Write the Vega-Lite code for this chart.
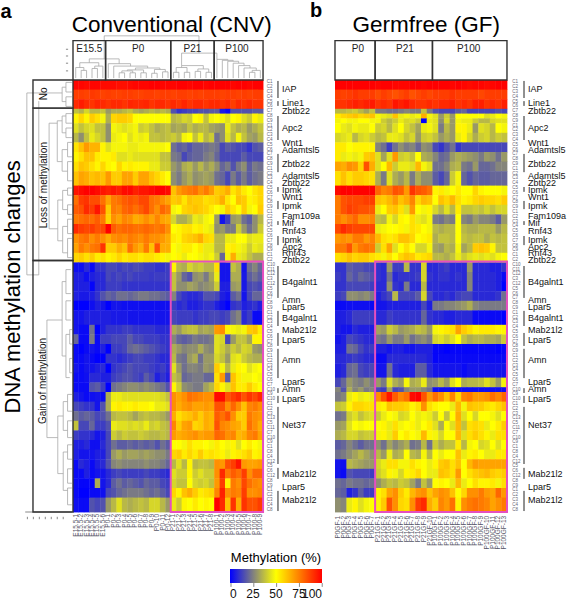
{"$schema":"https://vega.github.io/schema/vega-lite/v6.json","padding":0,"spacing":0,"bounds":"flush","resolve":{"scale":{"color":"independent"}},"config":{"font":"Liberation Sans","view":{"stroke":null}},
"datasets":{
"cellsA":[
{"r":0,"e":2,"v":[99,99,98,99,99,98,98,98,97,97,98,99,99,99,100,100,99,99,99,100,100,99,100,100,99,100,100,100,100,99,100,100,99,100,100]},
{"r":2,"e":4,"v":[88,88,87,89,88,87,88,87,87,88,88,87,87,88,88,87,88,88,87,88,88,87,88,87,88,88,88,87,88,88,87,88,87,88,88]},
{"r":4,"e":6,"v":[92,95,92,90,93,92,90,92,92,90,93,92,92,93,90,92,92,90,92,90,93,90,92,92,90,92,92,90,92,88,92,90,92,90,90]},
{"r":6,"e":7,"v":[38,35,42,36,36,38,30,34,34,36,38,34,32,34,36,34,36,34,16,10,12,14,14,16,16,18,18,5,2,16,16,16,16,18,18]},
{"r":7,"e":9,"v":[52,58,52,60,56,48,34,58,60,60,58,50,50,50,50,50,50,50,36,38,42,40,50,52,38,48,50,48,44,50,52,44,40,52,46]},
{"r":9,"e":11,"v":[44,38,42,44,38,38,28,48,46,44,46,48,40,42,38,34,36,38,32,34,32,38,34,36,36,32,30,28,46,38,34,36,30,34,38]},
{"r":11,"e":13,"v":[36,28,38,46,42,38,28,46,48,50,44,48,46,48,38,38,36,38,40,36,48,50,38,46,36,40,22,28,44,36,48,38,32,30,36]},
{"r":13,"e":15,"v":[55,62,70,65,65,52,44,48,48,48,46,46,48,48,48,48,48,50,22,18,20,16,20,20,22,24,22,14,18,16,14,14,10,16,18]},
{"r":15,"e":17,"v":[52,56,62,62,54,52,52,54,44,44,46,44,44,44,44,44,38,38,24,22,14,18,20,20,24,26,20,14,14,14,14,18,14,14,14]},
{"r":17,"e":19,"v":[56,62,60,56,52,58,52,50,58,52,54,52,52,52,46,46,40,40,30,26,34,36,30,36,30,34,28,20,24,16,24,28,18,24,22]},
{"r":19,"e":22,"v":[62,68,66,62,64,62,70,60,60,68,68,60,68,68,62,58,54,50,28,24,30,34,28,30,32,30,22,20,14,24,18,24,18,22,24]},
{"r":22,"e":24,"v":[96,98,100,100,98,96,94,96,94,98,98,94,96,96,98,100,100,98,62,70,74,76,78,72,76,70,60,62,66,55,60,54,50,55,58]},
{"r":24,"e":26,"v":[78,88,90,85,85,78,68,76,78,82,84,82,86,86,78,76,72,68,60,62,55,62,60,60,56,58,60,66,55,50,62,60,52,54,58]},
{"r":26,"e":28,"v":[82,84,92,88,96,84,60,76,74,80,82,78,82,86,78,72,80,76,48,50,58,60,62,60,58,54,50,48,60,55,50,60,48,50,60]},
{"r":28,"e":30,"v":[76,78,80,78,82,76,58,72,68,74,72,66,68,72,68,74,68,66,42,34,34,38,46,44,48,50,30,4,12,30,32,22,18,28,36]},
{"r":30,"e":32,"v":[92,88,86,88,84,86,100,82,78,80,80,78,78,80,78,76,78,72,50,52,55,56,52,54,48,46,28,30,24,24,40,30,22,28,40]},
{"r":32,"e":34,"v":[72,76,78,72,76,72,66,72,74,72,76,74,72,76,72,72,70,66,54,52,58,60,62,66,58,56,36,36,46,46,50,50,44,46,46]},
{"r":34,"e":36,"v":[68,76,72,76,78,90,60,60,66,62,78,70,66,76,62,84,66,66,50,48,54,54,50,54,46,46,36,36,52,54,48,46,40,46,44]},
{"r":36,"e":38,"v":[58,60,56,60,54,56,52,54,58,54,56,56,54,56,56,54,52,48,50,52,46,50,50,48,46,48,40,20,48,66,46,44,38,34,34]},
{"r":38,"e":40,"v":[3,3,8,2,10,10,14,14,12,14,13,15,14,12,12,10,10,12,52,36,34,42,38,40,36,36,56,4,4,38,34,4,22,26,20]},
{"r":40,"e":42,"v":[6,6,3,6,8,8,14,12,14,12,14,12,12,12,11,12,12,12,38,30,20,16,28,30,24,32,46,4,4,34,34,5,18,22,18]},
{"r":42,"e":44,"v":[6,6,6,1,8,8,12,12,12,10,10,10,10,10,10,10,10,10,38,28,28,32,30,26,28,30,40,6,6,30,32,5,14,16,14]},
{"r":44,"e":46,"v":[6,5,5,6,10,16,20,18,22,22,20,22,24,24,22,22,20,18,26,14,10,8,8,10,16,16,14,6,4,18,22,4,14,20,20]},
{"r":46,"e":48,"v":[0,0,0,3,6,4,0,4,4,3,3,3,3,3,3,3,3,3,12,8,10,6,6,8,10,10,6,3,0,10,12,6,8,10,6]},
{"r":48,"e":51,"v":[4,4,6,6,6,6,6,5,5,5,4,4,4,4,4,4,4,4,14,12,12,12,10,12,12,14,14,12,14,22,26,8,12,2,2]},
{"r":51,"e":53,"v":[4,2,2,22,0,6,10,10,10,12,12,10,10,10,10,8,8,8,34,30,36,38,38,32,34,32,70,72,52,48,46,48,60,62,54]},
{"r":53,"e":55,"v":[20,2,2,24,2,12,12,14,14,14,18,14,14,12,12,12,10,10,26,20,18,20,24,22,22,24,44,42,14,30,38,38,32,52,52]},
{"r":55,"e":57,"v":[2,0,2,4,2,6,0,12,12,14,20,22,20,18,16,14,12,10,34,30,26,28,28,34,28,26,44,40,34,40,36,42,40,30,28]},
{"r":57,"e":59,"v":[2,2,4,2,0,0,10,10,8,10,12,14,14,12,12,10,8,8,36,24,22,30,34,22,30,30,42,38,30,44,46,40,36,34,34]},
{"r":59,"e":61,"v":[4,2,4,4,6,8,0,10,12,14,16,14,14,14,12,10,12,8,44,30,22,26,26,24,30,28,60,48,36,46,52,50,44,48,50]},
{"r":61,"e":63,"v":[2,2,3,8,8,6,6,12,14,16,16,14,12,18,14,6,10,6,38,34,20,22,24,24,20,20,56,70,18,62,54,48,48,50,48]},
{"r":63,"e":65,"v":[2,2,2,16,18,12,0,22,24,26,28,28,26,28,26,24,22,16,52,40,28,26,24,24,32,36,58,52,44,62,54,54,60,54,50]},
{"r":65,"e":67,"v":[6,4,2,3,4,2,34,46,46,44,44,44,44,44,44,44,42,38,72,68,72,78,76,74,72,72,98,98,84,88,92,84,90,86,92]},
{"r":67,"e":69,"v":[14,12,10,10,4,16,34,52,54,52,52,54,52,52,50,46,46,44,72,66,70,72,68,68,70,68,84,84,72,80,72,62,74,76,72]},
{"r":69,"e":71,"v":[22,18,20,18,14,16,22,36,38,38,36,32,36,38,36,36,34,30,66,56,60,62,66,60,66,64,82,78,84,72,60,60,76,72,70]},
{"r":71,"e":73,"v":[38,14,14,20,12,12,16,46,44,44,42,44,42,46,40,42,38,36,74,60,68,70,58,60,66,64,84,74,72,68,66,60,78,72,66]},
{"r":73,"e":75,"v":[12,10,10,8,4,6,14,40,36,40,38,38,40,38,36,36,38,36,70,66,68,70,72,68,70,70,80,78,72,74,64,66,74,76,68]},
{"r":75,"e":77,"v":[6,6,8,3,3,8,14,22,18,18,20,18,20,18,20,16,22,18,50,50,48,56,52,52,50,48,54,50,48,52,44,50,54,50,48]},
{"r":77,"e":79,"v":[6,4,4,4,6,6,14,30,34,30,32,32,30,32,30,28,28,24,58,60,54,58,54,60,54,56,54,52,46,52,54,56,60,52,54]},
{"r":79,"e":81,"v":[2,8,6,2,6,8,16,26,28,26,26,26,26,28,26,26,24,20,36,44,36,52,36,38,38,36,72,70,84,88,96,70,68,68,70]},
{"r":81,"e":83,"v":[2,2,6,2,4,4,8,12,14,12,12,12,12,14,12,12,10,8,44,40,40,52,40,44,40,40,72,92,76,82,78,88,72,80,80]},
{"r":83,"e":85,"v":[2,1,1,1,34,4,8,18,22,18,20,18,16,20,18,18,14,12,42,38,38,50,42,40,42,38,70,88,52,76,72,86,78,74,72]},
{"r":85,"e":87,"v":[2,0,0,2,2,3,14,16,20,22,24,24,24,22,20,22,18,14,58,52,62,66,60,54,56,58,74,94,72,76,74,88,72,72,74]},
{"r":87,"e":90,"v":[3,2,2,16,14,16,30,36,44,36,34,36,38,36,42,42,36,30,46,40,52,50,54,50,52,50,100,92,62,90,66,90,84,84,88]}],
"cellsB":[
{"r":0,"e":2,"v":[100,100,100,100,100,100,100,99,100,100,99,99,99,100,100,99,100,100,100,100,99,100,99,98,99,99,98,99,100,100]},
{"r":2,"e":4,"v":[88,87,88,90,88,88,88,85,88,86,84,86,88,84,86,88,86,88,88,88,90,88,88,88,88,86,88,88,88,88]},
{"r":4,"e":6,"v":[90,90,92,94,92,94,95,90,92,90,96,94,96,92,90,90,92,90,92,92,94,90,92,90,94,94,90,92,90,94]},
{"r":6,"e":7,"v":[36,36,38,40,36,32,38,24,24,22,22,24,26,24,24,38,24,16,14,14,14,18,20,14,14,14,14,14,16,14]},
{"r":7,"e":8,"v":[54,58,60,62,58,60,62,48,46,44,62,46,48,46,48,66,48,44,30,40,30,50,50,50,50,50,44,46,50,48]},
{"r":8,"e":9,"v":[48,50,48,48,50,50,48,48,40,36,40,46,42,44,40,0,46,44,28,42,30,48,46,46,40,36,36,42,44,44]},
{"r":9,"e":11,"v":[50,46,44,48,46,46,50,40,42,36,44,50,42,38,32,46,48,44,24,36,30,52,52,46,30,44,42,36,50,48]},
{"r":11,"e":13,"v":[42,44,46,36,42,44,40,36,38,46,46,44,38,42,30,40,42,38,30,34,30,46,52,42,34,40,42,36,40,38]},
{"r":13,"e":15,"v":[54,54,50,52,52,52,52,26,22,12,22,28,24,26,20,28,26,14,10,16,22,10,14,14,14,14,14,14,14,14]},
{"r":15,"e":17,"v":[54,46,48,46,48,60,62,44,32,44,70,40,42,38,50,34,32,26,20,22,30,34,32,30,28,24,30,28,22,30]},
{"r":17,"e":19,"v":[68,66,72,70,58,84,66,44,50,64,40,46,46,44,64,48,44,22,22,26,34,36,24,22,30,20,20,22,26,26]},
{"r":19,"e":22,"v":[56,62,56,60,60,58,56,34,24,44,34,30,36,24,34,28,28,18,14,20,40,48,20,16,20,18,18,20,20,20]},
{"r":22,"e":24,"v":[98,100,100,100,100,100,100,80,74,76,84,82,70,90,84,82,78,52,54,48,50,54,50,50,58,52,50,50,50,48]},
{"r":24,"e":26,"v":[76,84,86,86,86,88,88,62,60,64,70,62,66,74,58,64,62,50,62,58,64,56,52,54,58,60,58,58,56,60]},
{"r":26,"e":28,"v":[76,84,88,86,84,84,82,46,50,60,62,56,44,70,50,48,52,42,36,44,36,54,38,38,40,38,42,38,42,42]},
{"r":28,"e":30,"v":[76,72,76,80,72,72,74,38,36,48,42,52,50,56,46,44,48,24,22,26,24,50,26,24,30,26,26,24,18,30]},
{"r":30,"e":32,"v":[86,92,88,86,86,86,86,46,48,50,50,52,48,56,54,50,48,36,34,36,36,50,36,34,34,36,36,36,30,36]},
{"r":32,"e":34,"v":[70,72,70,76,76,70,74,64,56,54,56,62,62,58,50,52,54,34,38,38,36,50,38,36,38,38,34,38,36,38]},
{"r":34,"e":36,"v":[76,76,84,70,76,78,76,40,56,68,44,50,56,50,42,42,48,32,30,36,34,48,32,36,60,62,60,52,38,38]},
{"r":36,"e":38,"v":[56,58,62,58,60,60,56,54,48,56,50,58,62,60,54,56,58,36,36,34,38,46,40,44,46,44,46,44,48,50]},
{"r":38,"e":40,"v":[10,10,18,16,16,14,14,10,8,30,12,12,36,10,10,42,8,8,10,12,8,8,8,30,8,8,8,6,6,10]},
{"r":40,"e":42,"v":[12,10,20,16,20,18,16,10,8,22,8,10,10,10,12,42,10,8,10,10,8,10,8,26,8,8,8,8,6,2]},
{"r":42,"e":44,"v":[10,10,14,14,14,14,12,8,8,28,10,8,24,8,8,36,8,8,8,8,8,8,8,26,8,8,8,8,6,0]},
{"r":44,"e":46,"v":[12,14,28,28,26,28,24,6,10,14,36,14,14,14,18,42,14,8,8,10,8,12,14,14,8,8,8,8,10,22]},
{"r":46,"e":48,"v":[2,2,3,3,3,3,2,4,4,6,6,6,6,6,6,14,6,24,24,26,26,28,30,34,26,24,24,24,24,24]},
{"r":48,"e":51,"v":[6,6,8,12,12,12,12,8,8,12,10,10,10,10,10,20,10,8,8,6,6,8,8,8,2,2,2,2,2,0]},
{"r":51,"e":53,"v":[6,4,4,8,6,6,6,32,30,40,36,30,32,34,38,36,30,48,52,54,56,68,60,56,52,54,54,54,52,52]},
{"r":53,"e":55,"v":[4,6,14,12,10,8,8,24,22,30,24,24,30,22,26,28,24,42,44,40,44,50,38,34,36,36,34,34,32,40]},
{"r":55,"e":57,"v":[6,6,22,20,14,10,12,6,6,4,6,6,4,4,6,6,6,1,1,0,1,1,1,1,1,1,1,1,0,1]},
{"r":57,"e":59,"v":[8,8,10,12,10,8,8,2,2,8,8,8,8,8,8,8,6,1,2,2,2,2,2,2,2,2,2,2,2,2]},
{"r":59,"e":62,"v":[6,8,20,22,14,12,14,4,4,22,8,6,6,6,18,18,8,4,4,4,4,4,2,4,4,4,4,4,4,4]},
{"r":62,"e":64,"v":[14,20,30,26,24,28,24,30,24,44,34,30,48,34,36,46,28,30,36,30,44,50,34,36,36,38,44,38,30,48]},
{"r":64,"e":65,"v":[26,16,34,26,30,24,26,14,12,32,14,16,26,30,30,26,22,3,3,3,3,3,3,3,3,3,3,3,3,3]},
{"r":65,"e":67,"v":[24,26,46,52,46,48,46,72,84,96,82,74,78,98,100,84,70,78,72,62,74,58,74,76,70,70,72,78,74,80]},
{"r":67,"e":69,"v":[38,40,52,58,58,56,56,54,52,62,60,60,58,52,56,72,56,52,50,50,46,64,48,62,60,60,56,54,58,62]},
{"r":69,"e":71,"v":[22,24,40,44,38,42,44,40,46,50,48,42,44,50,46,48,46,40,50,38,50,66,44,50,42,50,50,48,44,50]},
{"r":71,"e":73,"v":[30,32,44,50,48,50,50,50,52,46,56,48,50,52,46,50,54,44,34,50,44,64,38,56,58,56,46,50,54,60]},
{"r":73,"e":75,"v":[34,36,42,42,38,40,40,48,52,46,60,50,54,50,48,64,52,48,42,50,50,64,44,56,60,56,52,46,56,56]},
{"r":75,"e":77,"v":[18,20,26,22,18,22,22,28,22,32,26,30,34,22,24,36,22,40,34,38,38,54,36,48,50,42,44,50,44,50]},
{"r":77,"e":79,"v":[22,24,28,32,36,32,28,36,30,46,34,36,50,36,34,48,36,50,46,50,50,62,46,52,54,50,46,46,54,54]},
{"r":79,"e":81,"v":[4,3,36,34,32,30,30,42,46,56,56,48,48,56,52,50,46,52,60,62,56,62,50,64,70,68,68,68,68,68]},
{"r":81,"e":83,"v":[4,2,16,14,14,14,12,40,44,52,48,42,52,54,58,50,46,46,62,60,56,70,50,56,60,62,64,60,58,60]},
{"r":83,"e":85,"v":[22,20,24,22,22,20,22,28,34,38,36,40,38,32,24,38,30,50,52,50,46,64,46,50,56,52,52,54,48,56]},
{"r":85,"e":87,"v":[20,18,6,10,18,12,12,52,56,68,72,60,54,64,70,72,62,68,72,70,62,50,58,72,72,76,70,68,80,70]},
{"r":87,"e":90,"v":[28,26,46,52,44,48,50,52,60,84,72,58,56,72,88,92,66,60,74,70,78,52,72,76,78,76,74,68,72,76]}],
"genes":[{"k":1.9,"t":"IAP"},{"k":4.8,"t":"Line1"},{"k":6.5,"t":"Zbtb22"},{"k":10,"t":"Apc2"},{"k":13.1,"t":"Wnt1"},{"k":14.6,"t":"Adamtsl5"},{"k":17.5,"t":"Zbtb22"},{"k":20,"t":"Adamtsl5"},{"k":21.5,"t":"Zbtb22"},{"k":22.9,"t":"Ipmk"},{"k":24.4,"t":"Wnt1"},{"k":26.3,"t":"Ipmk"},{"k":28.3,"t":"Fam109a"},{"k":29.8,"t":"Mif"},{"k":31.5,"t":"Rnf43"},{"k":33.3,"t":"Ipmk"},{"k":34.8,"t":"Apc2"},{"k":36,"t":"Rnf43"},{"k":37.5,"t":"Zbtb22"},{"k":42.1,"t":"B4galnt1"},{"k":45.8,"t":"Amn"},{"k":47.3,"t":"Lpar5"},{"k":49.6,"t":"B4galnt1"},{"k":52.1,"t":"Mab21l2"},{"k":54.2,"t":"Lpar5"},{"k":58.3,"t":"Amn"},{"k":62.9,"t":"Lpar5"},{"k":64.4,"t":"Amn"},{"k":66.5,"t":"Lpar5"},{"k":71.9,"t":"Net37"},{"k":82.1,"t":"Mab21l2"},{"k":84.8,"t":"Lpar5"},{"k":87.5,"t":"Mab21l2"}],
"bars":[{"k":0.2,"e":3.75},{"k":4.4,"e":5.4},{"k":7.5,"e":12.5},{"k":15.4,"e":19.2},{"k":22.3,"e":23.3},{"k":25.2,"e":26.9},{"k":29.4,"e":30.2},{"k":32.5,"e":34.4},{"k":38.75,"e":45.4},{"k":48.1,"e":51.25},{"k":52.7,"e":55.4},{"k":56,"e":62.1},{"k":64.2,"e":65.2},{"k":65.8,"e":67.3},{"k":68.1,"e":80},{"k":80.8,"e":83.1},{"k":85.6,"e":89.8}],
"rowLabels":[{"k":0.5,"t":"C1"},{"k":1.5,"t":"C2"},{"k":2.5,"t":"C3"},{"k":3.5,"t":"C4"},{"k":4.5,"t":"C5"},{"k":5.5,"t":"C6"},{"k":6.5,"t":"C7"},{"k":7.5,"t":"C8"},{"k":8.5,"t":"C9"},{"k":9.5,"t":"C1"},{"k":10.5,"t":"C2"},{"k":11.5,"t":"C3"},{"k":12.5,"t":"C4"},{"k":13.5,"t":"C5"},{"k":14.5,"t":"C6"},{"k":15.5,"t":"C7"},{"k":16.5,"t":"C8"},{"k":17.5,"t":"C9"},{"k":18.5,"t":"C1"},{"k":19.5,"t":"C2"},{"k":20.5,"t":"C3"},{"k":21.5,"t":"C4"},{"k":22.5,"t":"C5"},{"k":23.5,"t":"C6"},{"k":24.5,"t":"C7"},{"k":25.5,"t":"C8"},{"k":26.5,"t":"C9"},{"k":27.5,"t":"C1"},{"k":28.5,"t":"C2"},{"k":29.5,"t":"C3"},{"k":30.5,"t":"C4"},{"k":31.5,"t":"C5"},{"k":32.5,"t":"C6"},{"k":33.5,"t":"C7"},{"k":34.5,"t":"C8"},{"k":35.5,"t":"C9"},{"k":36.5,"t":"C1"},{"k":37.5,"t":"C2"},{"k":38.5,"t":"C10"},{"k":39.5,"t":"C11"},{"k":40.5,"t":"C12"},{"k":41.5,"t":"C3"},{"k":42.5,"t":"C12"},{"k":43.5,"t":"C5"},{"k":44.5,"t":"C6"},{"k":45.5,"t":"C7"},{"k":46.5,"t":"C8"},{"k":47.5,"t":"C9"},{"k":48.5,"t":"C1"},{"k":49.5,"t":"C2"},{"k":50.5,"t":"C3"},{"k":51.5,"t":"C4"},{"k":52.5,"t":"C5"},{"k":53.5,"t":"C6"},{"k":54.5,"t":"C7"},{"k":55.5,"t":"C8"},{"k":56.5,"t":"C9"},{"k":57.5,"t":"C1"},{"k":58.5,"t":"C2"},{"k":59.5,"t":"C3"},{"k":60.5,"t":"C4"},{"k":61.5,"t":"C5"},{"k":62.5,"t":"C6"},{"k":63.5,"t":"C7"},{"k":64.5,"t":"C10"},{"k":65.5,"t":"C9"},{"k":66.5,"t":"C10"},{"k":67.5,"t":"C1"},{"k":68.5,"t":"C2"},{"k":69.5,"t":"C3"},{"k":70.5,"t":"C13"},{"k":71.5,"t":"C5"},{"k":72.5,"t":"C11"},{"k":73.5,"t":"C7"},{"k":74.5,"t":"C10"},{"k":75.5,"t":"C9"},{"k":76.5,"t":"C1"},{"k":77.5,"t":"C8"},{"k":78.5,"t":"C4"},{"k":79.5,"t":"C12"},{"k":80.5,"t":"C5"},{"k":81.5,"t":"C6"},{"k":82.5,"t":"C12"},{"k":83.5,"t":"C8"},{"k":84.5,"t":"C9"},{"k":85.5,"t":"C1"},{"k":86.5,"t":"C2"},{"k":87.5,"t":"C3"},{"k":88.5,"t":"C4"},{"k":89.5,"t":"C8"}],
"colsA":[{"c":0.5,"t":"E15.5-1"},{"c":1.5,"t":"E15.5-2"},{"c":2.5,"t":"E15.5-3"},{"c":3.5,"t":"E15.5-4"},{"c":4.5,"t":"E15.5-5"},{"c":5.5,"t":"E15.5-6"},{"c":6.5,"t":"P0-1"},{"c":7.5,"t":"P0-2"},{"c":8.5,"t":"P0-3"},{"c":9.5,"t":"P0-4"},{"c":10.5,"t":"P0-5"},{"c":11.5,"t":"P0-6"},{"c":12.5,"t":"P0-7"},{"c":13.5,"t":"P0-8"},{"c":14.5,"t":"P0-9"},{"c":15.5,"t":"P0-10"},{"c":16.5,"t":"P0-11"},{"c":17.5,"t":"P0-12"},{"c":18.5,"t":"P21-1"},{"c":19.5,"t":"P21-2"},{"c":20.5,"t":"P21-3"},{"c":21.5,"t":"P21-4"},{"c":22.5,"t":"P21-5"},{"c":23.5,"t":"P21-6"},{"c":24.5,"t":"P21-7"},{"c":25.5,"t":"P21-8"},{"c":26.5,"t":"P100-1"},{"c":27.5,"t":"P100-2"},{"c":28.5,"t":"P100-3"},{"c":29.5,"t":"P100-4"},{"c":30.5,"t":"P100-5"},{"c":31.5,"t":"P100-6"},{"c":32.5,"t":"P100-7"},{"c":33.5,"t":"P100-8"},{"c":34.5,"t":"P100-9"}],
"colsB":[{"c":0.5,"t":"P0GF-1"},{"c":1.5,"t":"P0GF-2"},{"c":2.5,"t":"P0GF-3"},{"c":3.5,"t":"P0GF-4"},{"c":4.5,"t":"P0GF-5"},{"c":5.5,"t":"P0GF-6"},{"c":6.5,"t":"P0GF-7"},{"c":7.5,"t":"P21GF-1"},{"c":8.5,"t":"P21GF-2"},{"c":9.5,"t":"P21GF-3"},{"c":10.5,"t":"P21GF-4"},{"c":11.5,"t":"P21GF-5"},{"c":12.5,"t":"P21GF-6"},{"c":13.5,"t":"P21GF-7"},{"c":14.5,"t":"P21GF-8"},{"c":15.5,"t":"P21GF-9"},{"c":16.5,"t":"P21GF-10"},{"c":17.5,"t":"P100GF-1"},{"c":18.5,"t":"P100GF-2"},{"c":19.5,"t":"P100GF-3"},{"c":20.5,"t":"P100GF-4"},{"c":21.5,"t":"P100GF-5"},{"c":22.5,"t":"P100GF-6"},{"c":23.5,"t":"P100GF-7"},{"c":24.5,"t":"P100GF-8"},{"c":25.5,"t":"P100GF-9"},{"c":26.5,"t":"P100GF-10"},{"c":27.5,"t":"P100GF-11"},{"c":28.5,"t":"P100GF-12"},{"c":29.5,"t":"P100GF-13"}],
"dTop":[{"a":1.5,"b":2.5,"h":-2,"p":-0.4,"q":-0.4},{"a":0.5,"b":2,"h":-2.6,"p":-0.4,"q":-2},{"a":3.5,"b":4.5,"h":-2.4,"p":-0.4,"q":-0.4},{"a":4,"b":5.5,"h":-2.9,"p":-2.4,"q":-0.4},{"a":1.25,"b":4.75,"h":-3.6,"p":-2.6,"q":-2.9},{"a":8.5,"b":9.5,"h":-1.5,"p":-0.4,"q":-0.4},{"a":10.5,"b":11.5,"h":-1.5,"p":-0.4,"q":-0.4},{"a":9,"b":11,"h":-1.9,"p":-1.5,"q":-1.5},{"a":12.5,"b":13.5,"h":-1.5,"p":-0.4,"q":-0.4},{"a":10,"b":13,"h":-2.1,"p":-1.9,"q":-1.5},{"a":14.5,"b":15.5,"h":-1.4,"p":-0.4,"q":-0.4},{"a":16.5,"b":17.5,"h":-1.7,"p":-0.4,"q":-0.4},{"a":15,"b":17,"h":-2.2,"p":-1.4,"q":-1.7},{"a":11.5,"b":16,"h":-2.5,"p":-2.1,"q":-2.2},{"a":7.5,"b":13.75,"h":-2.9,"p":-0.4,"q":-2.5},{"a":6.5,"b":10.6,"h":-3.4,"p":-0.4,"q":-2.9},{"a":3,"b":8.5,"h":-4.4,"p":-3.6,"q":-3.4},{"a":5.75,"b":23.2,"h":-9.2,"p":-4.4,"q":-5.6},{"a":18.5,"b":19.5,"h":-1.6,"p":-0.4,"q":-0.4},{"a":20.5,"b":21.5,"h":-1.6,"p":-0.4,"q":-0.4},{"a":19,"b":21,"h":-2.6,"p":-1.6,"q":-1.6},{"a":22.5,"b":23.5,"h":-1.8,"p":-0.4,"q":-0.4},{"a":24.5,"b":25.5,"h":-1.6,"p":-0.4,"q":-0.4},{"a":23,"b":25,"h":-2.3,"p":-1.8,"q":-1.6},{"a":20,"b":24,"h":-3,"p":-2.6,"q":-2.3},{"a":32.5,"b":33.5,"h":-1.6,"p":-0.4,"q":-0.4},{"a":33,"b":34.5,"h":-2,"p":-1.6,"q":-0.4},{"a":31.5,"b":33.75,"h":-2.5,"p":-0.4,"q":-2},{"a":30.5,"b":32.6,"h":-3,"p":-0.4,"q":-2.5},{"a":29.5,"b":31.5,"h":-3.5,"p":-0.4,"q":-3},{"a":28.5,"b":30.5,"h":-3.9,"p":-0.4,"q":-3.5},{"a":27.5,"b":29.5,"h":-4.1,"p":-0.4,"q":-3.9},{"a":26.5,"b":28.5,"h":-4.3,"p":-0.4,"q":-4.1},{"a":20,"b":26.5,"h":-5.6,"p":-3,"q":-4.3}],
"dLeft":[{"v":-2,"a":1.5,"b":4.5,"p":-1.3,"q":-1.3},{"v":-1.3,"a":0.5,"b":2.5,"p":-0.2,"q":-0.2},{"v":-1.3,"a":3.5,"b":5.5,"p":-0.2,"q":-0.2},{"v":-8.5,"a":2.7,"b":40.6,"p":-2,"q":-6.3},{"v":-6.3,"a":4.4,"b":40.6,"p":-6.3,"q":-6.3},{"v":-4.4,"a":9,"b":31,"p":-2.9,"q":-2.8},{"v":-2.9,"a":8.5,"b":17,"p":-2,"q":-2},{"v":-2,"a":7.5,"b":11,"p":-1.3,"q":-1.3},{"v":-1.3,"a":7,"b":9,"p":-0.2,"q":-0.2},{"v":-1.3,"a":10,"b":12,"p":-0.2,"q":-0.2},{"v":-2,"a":14.5,"b":19,"p":-1,"q":-1},{"v":-1,"a":13,"b":16,"p":-0.2,"q":-0.2},{"v":-1,"a":17,"b":21,"p":-0.2,"q":-0.2},{"v":-2.8,"a":25,"b":33.5,"p":-1.9,"q":-1.9},{"v":-1.9,"a":23,"b":27,"p":-1,"q":-1},{"v":-1,"a":22.5,"b":24,"p":-0.2,"q":-0.2},{"v":-1,"a":26,"b":28,"p":-0.2,"q":-0.2},{"v":-1.9,"a":30.5,"b":36,"p":-1,"q":-1},{"v":-1,"a":29,"b":32,"p":-0.2,"q":-0.2},{"v":-1,"a":33,"b":37,"p":-0.2,"q":-0.2},{"v":-4.8,"a":50,"b":74.5,"p":-2,"q":-2.8},{"v":-2,"a":42,"b":57.5,"p":-1.3,"q":-1.3},{"v":-1.3,"a":39.5,"b":44.5,"p":-0.4,"q":-0.4},{"v":-1.3,"a":46,"b":50,"p":-0.4,"q":-0.4},{"v":-1.3,"a":53,"b":62,"p":-0.6,"q":-0.6},{"v":-0.6,"a":52,"b":55,"p":-0.2,"q":-0.2},{"v":-0.6,"a":58,"b":61,"p":-0.2,"q":-0.2},{"v":-2.8,"a":70,"b":82,"p":-1.8,"q":-1.8},{"v":-1.8,"a":67,"b":73,"p":-1,"q":-1},{"v":-1,"a":65.5,"b":69,"p":-0.2,"q":-0.2},{"v":-1,"a":71,"b":74.5,"p":-0.2,"q":-0.2},{"v":-1.8,"a":77.5,"b":85.5,"p":-1,"q":-1},{"v":-1,"a":76,"b":79,"p":-0.2,"q":-0.2},{"v":-1,"a":81,"b":84,"p":-0.2,"q":-0.2},{"v":-1,"a":85,"b":88.5,"p":-0.2,"q":-0.2}],
"ticks":[{"x":-1.3,"x2":-0.9,"y":-6.4,"y2":-6.4},{"x":-1.3,"x2":-0.9,"y":-5,"y2":-5},{"x":-1.3,"x2":-0.9,"y":-3.5,"y2":-3.5},{"x":-1.3,"x2":-0.9,"y":-1.9,"y2":-1.9},{"x":-8.8,"x2":-0.2,"y":90,"y2":90},{"x":-8.4,"x2":-8.4,"y":91,"y2":91.5},{"x":-7.3,"x2":-7.3,"y":91,"y2":91.5},{"x":-6.2,"x2":-6.2,"y":91,"y2":91.5},{"x":-5.1,"x2":-5.1,"y":91,"y2":91.5},{"x":-4,"x2":-4,"y":91,"y2":91.5},{"x":-2.9,"x2":-2.9,"y":91,"y2":91.5},{"x":-1.8,"x2":-1.8,"y":91,"y2":91.5},{"x":29.1,"x2":29.1,"y":104.8,"y2":105.6},{"x":33.3,"x2":33.3,"y":104.8,"y2":105.6},{"x":37.5,"x2":37.5,"y":104.8,"y2":105.6},{"x":41.7,"x2":41.7,"y":104.8,"y2":105.6},{"x":45.9,"x2":45.9,"y":104.8,"y2":105.6}]
},
"hconcat":[
{"width":285,"height":600,"layer":[
{"data":{"name":"cellsA"},"transform":[{"flatten":["v"]},{"window":[{"op":"row_number","as":"c"}],"groupby":["r"]},{"calculate":"datum.c-1","as":"c0"}],"mark":{"type":"rect","x2Offset":0.4,"y2Offset":0.4},"encoding":{"x":{"field":"c0","type":"quantitative","axis":null,"scale":{"domain":[-13.444,39.043],"nice":false,"zero":false}},"x2":{"field":"c"},"y":{"field":"r","type":"quantitative","axis":null,"scale":{"domain":[-16.458,108.54],"reverse":true,"nice":false,"zero":false}},"y2":{"field":"e"},"color":{"field":"v","type":"quantitative","scale":{"domain":[0,50,100],"range":["#0000ff","#ffff00","#ff0000"],"interpolate":"rgb"},"legend":{"orient":"none","direction":"horizontal","legendX":230,"legendY":551,"title":"Methylation (%)","titleFontSize":13,"titleFontWeight":"normal","titleColor":"#000","titleAnchor":"middle","titlePadding":4,"gradientLength":92,"gradientThickness":14,"values":[0,25,50,75,100],"labelFontSize":12,"labelColor":"#111","labelAlign":"center","labelOverlap":false,"labelOffset":6}}}},
{"data":{"name":"dTop"},"mark":{"type":"rule","color":"#a8a8a8","strokeWidth":0.8},"encoding":{"x":{"field":"a","type":"quantitative"},"x2":{"field":"b"},"y":{"field":"h","type":"quantitative"}}},
{"data":{"name":"dTop"},"mark":{"type":"rule","color":"#a8a8a8","strokeWidth":0.8},"encoding":{"x":{"field":"a","type":"quantitative"},"y":{"field":"h","type":"quantitative"},"y2":{"field":"p"}}},
{"data":{"name":"dTop"},"mark":{"type":"rule","color":"#a8a8a8","strokeWidth":0.8},"encoding":{"x":{"field":"b","type":"quantitative"},"y":{"field":"h","type":"quantitative"},"y2":{"field":"q"}}},
{"data":{"name":"dLeft"},"mark":{"type":"rule","color":"#a8a8a8","strokeWidth":0.8},"encoding":{"x":{"field":"v","type":"quantitative"},"y":{"field":"a","type":"quantitative"},"y2":{"field":"b"}}},
{"data":{"name":"dLeft"},"mark":{"type":"rule","color":"#a8a8a8","strokeWidth":0.8},"encoding":{"x":{"field":"v","type":"quantitative"},"x2":{"field":"p"},"y":{"field":"a","type":"quantitative"}}},
{"data":{"name":"dLeft"},"mark":{"type":"rule","color":"#a8a8a8","strokeWidth":0.8},"encoding":{"x":{"field":"v","type":"quantitative"},"x2":{"field":"q"},"y":{"field":"b","type":"quantitative"}}},
{"data":{"name":"ticks"},"mark":{"type":"rule","color":"#555","strokeWidth":0.7},"encoding":{"x":{"field":"x","type":"quantitative"},"x2":{"field":"x2"},"y":{"field":"y","type":"quantitative"},"y2":{"field":"y2"}}},
{"data":{"values":[{"x":0,"x2":6,"y":-8.2,"y2":0},{"x":6,"x2":18,"y":-8.2,"y2":0},{"x":18,"x2":26,"y":-8.2,"y2":0},{"x":26,"x2":35,"y":-8.2,"y2":0},{"x":-7.37,"x2":0,"y":0,"y2":5.85},{"x":-7.37,"x2":0,"y":5.85,"y2":37.6},{"x":-7.37,"x2":0,"y":37.6,"y2":90}]},"mark":{"type":"rect","filled":false,"stroke":"#333","strokeWidth":1.4},"encoding":{"x":{"field":"x","type":"quantitative"},"x2":{"field":"x2"},"y":{"field":"y","type":"quantitative"},"y2":{"field":"y2"}}},
{"data":{"values":[{"x":18,"x2":35,"y":37.8,"y2":90}]},"mark":{"type":"rect","filled":false,"stroke":"#e64fc0","strokeWidth":2},"encoding":{"x":{"field":"x","type":"quantitative"},"x2":{"field":"x2"},"y":{"field":"y","type":"quantitative"},"y2":{"field":"y2"}}},
{"data":{"name":"bars"},"mark":{"type":"rule","color":"#222","strokeWidth":1},"encoding":{"x":{"datum":37.75,"type":"quantitative"},"y":{"field":"k","type":"quantitative"},"y2":{"field":"e"}}},
{"data":{"name":"genes"},"mark":{"type":"text","align":"left","baseline":"middle","fontSize":9,"color":"#111"},"encoding":{"x":{"datum":38.5,"type":"quantitative"},"y":{"field":"k","type":"quantitative"},"text":{"field":"t"}}},
{"data":{"name":"rowLabels"},"mark":{"type":"text","align":"left","baseline":"middle","fontSize":4.5,"color":"#667"},"encoding":{"x":{"datum":35.7,"type":"quantitative"},"y":{"field":"k","type":"quantitative"},"text":{"field":"t"}}},
{"data":{"name":"colsA"},"mark":{"type":"text","angle":270,"align":"right","baseline":"middle","fontSize":6.5,"color":"#556"},"encoding":{"x":{"field":"c","type":"quantitative"},"y":{"datum":90.4,"type":"quantitative"},"text":{"field":"t"}}},
{"data":{"values":[{"x":3,"t":"E15.5"},{"x":12,"t":"P0"},{"x":22,"t":"P21"},{"x":30.2,"t":"P100"}]},"mark":{"type":"text","fontSize":10,"baseline":"middle","color":"#222"},"encoding":{"x":{"field":"x","type":"quantitative"},"y":{"datum":-6.5,"type":"quantitative"},"text":{"field":"t"}}},
{"data":{"values":[{"x":18.2,"y":-11.46,"t":"Conventional (CNV)"}]},"mark":{"type":"text","fontSize":22.5,"baseline":"middle","color":"#000"},"encoding":{"x":{"field":"x","type":"quantitative"},"y":{"field":"y","type":"quantitative"},"text":{"field":"t"}}},
{"data":{"values":[{"x":-12.35,"y":-14.2,"t":"a"}]},"mark":{"type":"text","fontSize":20,"fontWeight":"bold","baseline":"middle","color":"#000"},"encoding":{"x":{"field":"x","type":"quantitative"},"y":{"field":"y","type":"quantitative"},"text":{"field":"t"}}},
{"data":{"values":[{"x":-11.05,"y":43.1,"t":"DNA methylation changes"}]},"mark":{"type":"text","fontSize":22,"angle":270,"baseline":"middle","color":"#000"},"encoding":{"x":{"field":"x","type":"quantitative"},"y":{"field":"y","type":"quantitative"},"text":{"field":"t"}}},
{"data":{"values":[{"x":-5.4,"y":2.9,"t":"No"},{"x":-5.34,"y":21.9,"t":"Loss of methylation"},{"x":-5.52,"y":62.7,"t":"Gain of methylation"}]},"mark":{"type":"text","fontSize":10,"angle":270,"baseline":"middle","color":"#111"},"encoding":{"x":{"field":"x","type":"quantitative"},"y":{"field":"y","type":"quantitative"},"text":{"field":"t"}}}
]},
{"width":282,"height":600,"layer":[
{"data":{"name":"cellsB"},"transform":[{"flatten":["v"]},{"window":[{"op":"row_number","as":"c"}],"groupby":["r"]},{"calculate":"datum.c-1","as":"c0"}],"mark":{"type":"rect","x2Offset":0.4,"y2Offset":0.4},"encoding":{"x":{"field":"c0","type":"quantitative","axis":null,"scale":{"domain":[-8.72,40.47],"nice":false,"zero":false}},"x2":{"field":"c"},"y":{"field":"r","type":"quantitative","axis":null,"scale":{"domain":[-16.458,108.54],"reverse":true,"nice":false,"zero":false}},"y2":{"field":"e"},"color":{"field":"v","type":"quantitative","scale":{"domain":[0,50,100],"range":["#0000ff","#ffff00","#ff0000"],"interpolate":"rgb"},"legend":null}}},
{"data":{"values":[{"x":0,"x2":7,"y":-8.2,"y2":0},{"x":7,"x2":17,"y":-8.2,"y2":0},{"x":17,"x2":30,"y":-8.2,"y2":0}]},"mark":{"type":"rect","filled":false,"stroke":"#333","strokeWidth":1.4},"encoding":{"x":{"field":"x","type":"quantitative"},"x2":{"field":"x2"},"y":{"field":"y","type":"quantitative"},"y2":{"field":"y2"}}},
{"data":{"values":[{"x":7,"x2":30,"y":37.8,"y2":90}]},"mark":{"type":"rect","filled":false,"stroke":"#e64fc0","strokeWidth":2},"encoding":{"x":{"field":"x","type":"quantitative"},"x2":{"field":"x2"},"y":{"field":"y","type":"quantitative"},"y2":{"field":"y2"}}},
{"data":{"name":"bars"},"mark":{"type":"rule","color":"#222","strokeWidth":1},"encoding":{"x":{"datum":32.97,"type":"quantitative"},"y":{"field":"k","type":"quantitative"},"y2":{"field":"e"}}},
{"data":{"name":"genes"},"mark":{"type":"text","align":"left","baseline":"middle","fontSize":9,"color":"#111"},"encoding":{"x":{"datum":33.66,"type":"quantitative"},"y":{"field":"k","type":"quantitative"},"text":{"field":"t"}}},
{"data":{"name":"rowLabels"},"mark":{"type":"text","align":"left","baseline":"middle","fontSize":4.5,"color":"#667"},"encoding":{"x":{"datum":30.9,"type":"quantitative"},"y":{"field":"k","type":"quantitative"},"text":{"field":"t"}}},
{"data":{"name":"colsB"},"mark":{"type":"text","angle":270,"align":"right","baseline":"middle","fontSize":6.5,"color":"#556"},"encoding":{"x":{"field":"c","type":"quantitative"},"y":{"datum":90.8,"type":"quantitative"},"text":{"field":"t"}}},
{"data":{"values":[{"x":4,"t":"P0"},{"x":12.2,"t":"P21"},{"x":23.3,"t":"P100"}]},"mark":{"type":"text","fontSize":10,"baseline":"middle","color":"#222"},"encoding":{"x":{"field":"x","type":"quantitative"},"y":{"datum":-6.5,"type":"quantitative"},"text":{"field":"t"}}},
{"data":{"values":[{"x":15.9,"y":-11.46,"t":"Germfree (GF)"}]},"mark":{"type":"text","fontSize":22.5,"baseline":"middle","color":"#000"},"encoding":{"x":{"field":"x","type":"quantitative"},"y":{"field":"y","type":"quantitative"},"text":{"field":"t"}}},
{"data":{"values":[{"x":-3.3,"y":-14.4,"t":"b"}]},"mark":{"type":"text","fontSize":20,"fontWeight":"bold","baseline":"middle","color":"#000"},"encoding":{"x":{"field":"x","type":"quantitative"},"y":{"field":"y","type":"quantitative"},"text":{"field":"t"}}}
]}
]}
